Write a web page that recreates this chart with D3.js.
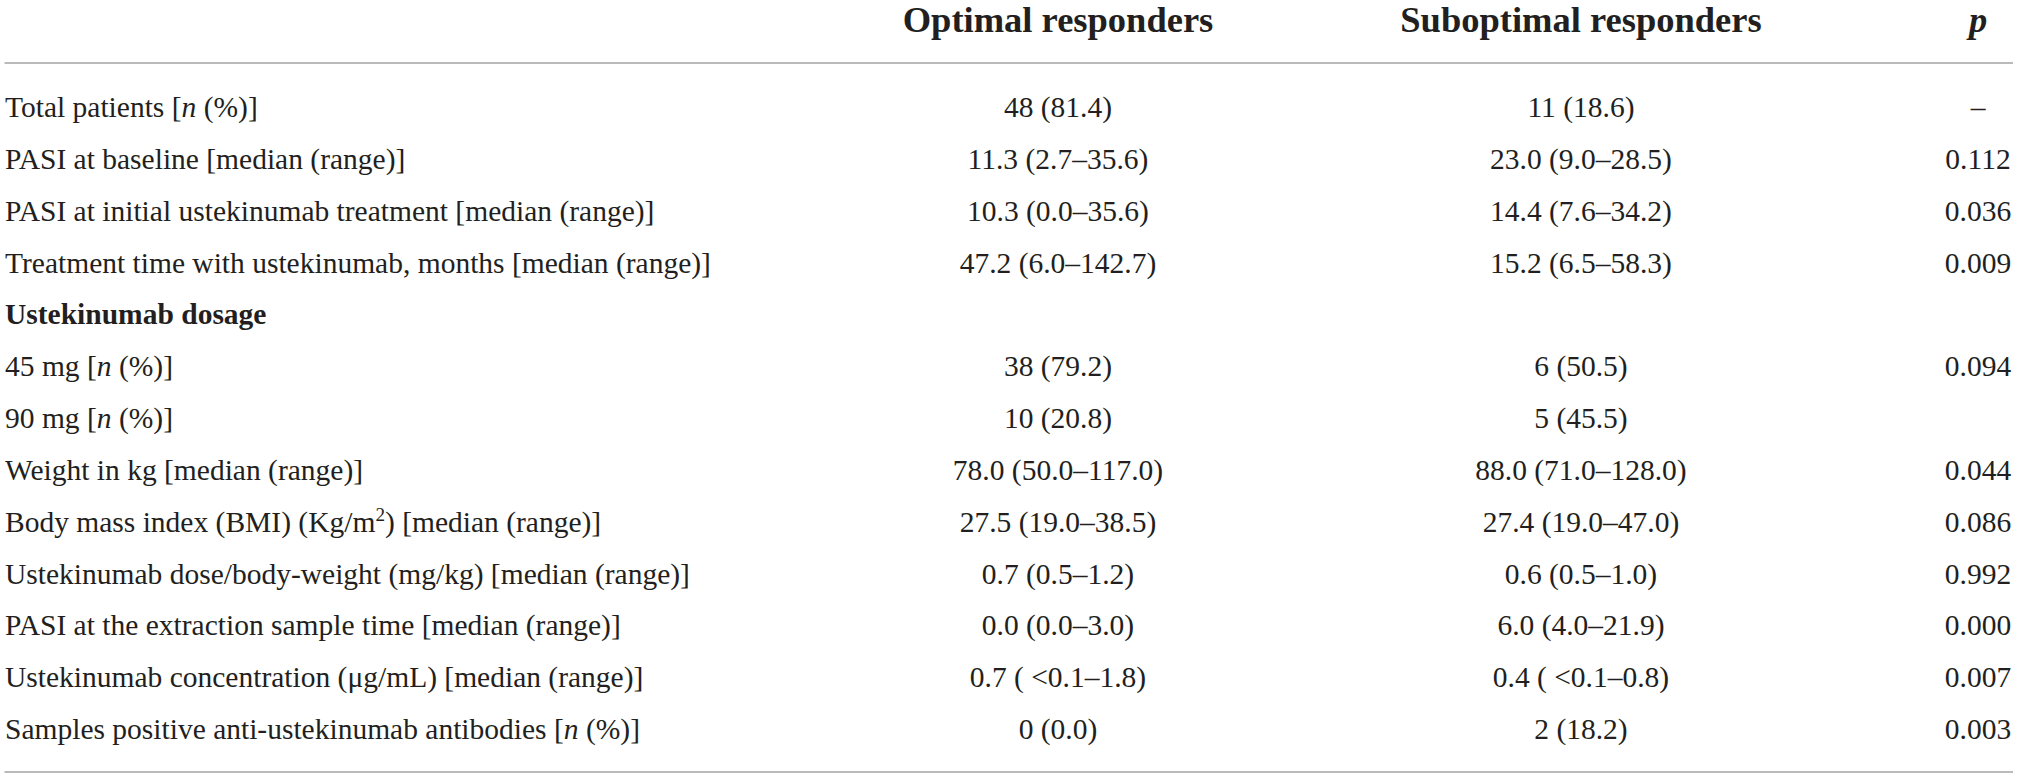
<!DOCTYPE html>
<html>

<head>
  <meta charset="utf-8">
  <script src="https://d3js.org/d3.v7.min.js"></script>
  <style>
    body { margin: 0; background: #fff; }
    text { font-family: "Liberation Serif", "DejaVu Serif", serif; fill: #231f20; }
  </style>
</head>

<body>
  <script>
    // *...* = italic, ^...^ = superscript
    const headers = ["Optimal responders", "Suboptimal responders", "p"];

    const labels = [
      "Total patients [*n* (%)]",
      "PASI at baseline [median (range)]",
      "PASI at initial ustekinumab treatment [median (range)]",
      "Treatment time with ustekinumab, months [median (range)]",
      "Ustekinumab dosage",
      "45 mg [*n* (%)]",
      "90 mg [*n* (%)]",
      "Weight in kg [median (range)]",
      "Body mass index (BMI) (Kg/m^2^) [median (range)]",
      "Ustekinumab dose/body-weight (mg/kg) [median (range)]",
      "PASI at the extraction sample time [median (range)]",
      "Ustekinumab concentration (μg/mL) [median (range)]",
      "Samples positive anti-ustekinumab antibodies [*n* (%)]"
    ];

    const boldRows = [4];

    const optimal = [
      "48 (81.4)", "11.3 (2.7–35.6)", "10.3 (0.0–35.6)", "47.2 (6.0–142.7)", "",
      "38 (79.2)", "10 (20.8)", "78.0 (50.0–117.0)", "27.5 (19.0–38.5)",
      "0.7 (0.5–1.2)", "0.0 (0.0–3.0)", "0.7 ( <0.1–1.8)", "0 (0.0)"
    ];

    const suboptimal = [
      "11 (18.6)", "23.0 (9.0–28.5)", "14.4 (7.6–34.2)", "15.2 (6.5–58.3)", "",
      "6 (50.5)", "5 (45.5)", "88.0 (71.0–128.0)", "27.4 (19.0–47.0)",
      "0.6 (0.5–1.0)", "6.0 (4.0–21.9)", "0.4 ( <0.1–0.8)", "2 (18.2)"
    ];

    const pValues = [
      "–", "0.112", "0.036", "0.009", "", "0.094", "",
      "0.044", "0.086", "0.992", "0.000", "0.007", "0.003"
    ];

    const width = 2019;
    const height = 777;
    const bodySize = 29.5;
    const headSize = 36.5;

    const svg = d3.select("body").append("svg")
      .attr("width", width)
      .attr("height", height);

    // row baselines
    const y = d3.scalePoint()
      .domain(d3.range(labels.length))
      .range([117, 739]);

    // column centres
    const x = d3.scaleOrdinal()
      .domain(["optimal", "suboptimal", "p"])
      .range([1058, 1581, 1978]);

    const headerY = 32;
    const ruleTop = 63;
    const ruleBottom = 772;

    svg.selectAll(".rule")
      .data([ruleTop, ruleBottom])
      .enter().append("line")
      .attr("class", "rule")
      .attr("x1", 4.5)
      .attr("x2", 2013)
      .attr("y1", d => d)
      .attr("y2", d => d)
      .attr("stroke", "#a3a3a3")
      .attr("stroke-width", 1.5);

    // header
    svg.selectAll(".head")
      .data(headers)
      .enter().append("text")
      .attr("class", "head")
      .attr("x", (d, i) => x.range()[i])
      .attr("y", headerY)
      .attr("text-anchor", "middle")
      .style("font-size", headSize + "px")
      .style("font-weight", "bold")
      .style("font-style", d => d === "p" ? "italic" : "normal")
      .text(d => d);

    // label column with inline italic / superscript parts
    function addRich(sel, str) {
      const parts = str.split(/(\*[^*]+\*|\^[^^]+\^)/).filter(s => s.length);
      let shift = 0;
      parts.forEach(p => {
        let t;
        if (p.startsWith("*")) {
          t = sel.append("tspan").style("font-style", "italic").text(p.slice(1, -1));
        } else if (p.startsWith("^")) {
          t = sel.append("tspan")
            .style("font-size", (bodySize * 0.65) + "px")
            .text(p.slice(1, -1));
          t.attr("dy", -11 - shift);
          shift = -11;
          return;
        } else {
          t = sel.append("tspan").text(p);
        }
        if (shift) {
          t.attr("dy", -shift);
          shift = 0;
        }
      });
    }

    svg.selectAll(".label")
      .data(labels)
      .enter().append("text")
      .attr("class", "label")
      .attr("x", 5)
      .attr("y", (d, i) => y(i))
      .style("font-size", bodySize + "px")
      .style("font-weight", (d, i) => boldRows.includes(i) ? "bold" : "normal")
      .each(function(d) { addRich(d3.select(this), d); });

    const columns = [
      { key: "optimal", values: optimal },
      { key: "suboptimal", values: suboptimal },
      { key: "p", values: pValues }
    ];

    columns.forEach(col => {
      svg.selectAll(".cell-" + col.key)
        .data(col.values.map((v, i) => ({ v, i })).filter(d => d.v !== ""))
        .enter().append("text")
        .attr("class", "cell-" + col.key)
        .attr("x", x(col.key))
        .attr("y", d => y(d.i))
        .attr("text-anchor", "middle")
        .style("font-size", bodySize + "px")
        .text(d => d.v);
    });
  </script>
</body>

</html>
